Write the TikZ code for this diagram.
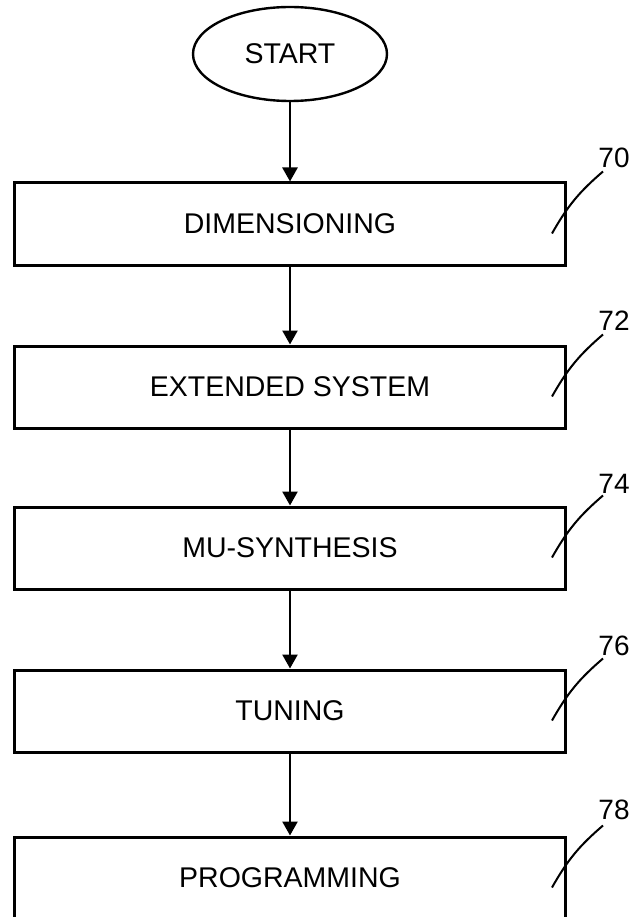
\documentclass[tikz,border=0pt]{standalone}
\usepackage{fontspec}
\setmainfont{Liberation Sans}
\usetikzlibrary{shapes.geometric,arrows.meta,calc}
\begin{document}
\begin{tikzpicture}[x=1pt,y=-1pt,
  stepbox/.style={draw,line width=3pt,minimum width=551pt,minimum height=82pt,inner sep=0pt,font=\fontsize{28.5}{34}\selectfont},
  startnode/.style={draw,ellipse,line width=2.4pt,minimum width=194pt,minimum height=94pt,inner sep=0pt,font=\fontsize{28.5}{34}\selectfont},
  arr/.style={line width=2.6pt,-{Triangle[width=15pt,length=14pt]}},
  leader/.style={line width=2pt},
  num/.style={font=\fontsize{28}{32}\selectfont,inner sep=0pt}]
\useasboundingbox (0,0) rectangle (633,917);
\fill[white] (0,0) rectangle (633,917);

\node[startnode] (s) at (290,54) {START};
\node[stepbox] (b1) at (290,224) {DIMENSIONING};
\node[stepbox] (b2) at (290,387) {EXTENDED SYSTEM};
\node[stepbox] (b3) at (290,548) {MU-SYNTHESIS};
\node[stepbox] (b4) at (290,711) {TUNING};
\node[stepbox] (b5) at (290,878) {PROGRAMMING};

\draw[arr] (s.south) -- (b1.north);
\draw[arr] (b1.south) -- (b2.north);
\draw[arr] (b2.south) -- (b3.north);
\draw[arr] (b3.south) -- (b4.north);
\draw[arr] (b4.south) -- (b5.north);

\node[num] (n70) at (614,158) {70};
\node[num] (n72) at (614,321) {72};
\node[num] (n74) at (614,484) {74};
\node[num] (n76) at (614,646) {76};
\node[num] (n78) at (614,810) {78};

\coordinate (a70) at ($(b1.north east)+(-15,52)$);
\coordinate (e70) at ($(b1.north east)+(36,-10)$);
\draw[leader] (a70) to[bend left=10] (e70);
\coordinate (a72) at ($(b2.north east)+(-15,52)$);
\coordinate (e72) at ($(b2.north east)+(36,-10)$);
\draw[leader] (a72) to[bend left=10] (e72);
\coordinate (a74) at ($(b3.north east)+(-15,52)$);
\coordinate (e74) at ($(b3.north east)+(36,-10)$);
\draw[leader] (a74) to[bend left=10] (e74);
\coordinate (a76) at ($(b4.north east)+(-15,52)$);
\coordinate (e76) at ($(b4.north east)+(36,-10)$);
\draw[leader] (a76) to[bend left=10] (e76);
\coordinate (a78) at ($(b5.north east)+(-15,52)$);
\coordinate (e78) at ($(b5.north east)+(36,-10)$);
\draw[leader] (a78) to[bend left=10] (e78);
\end{tikzpicture}
\end{document}
